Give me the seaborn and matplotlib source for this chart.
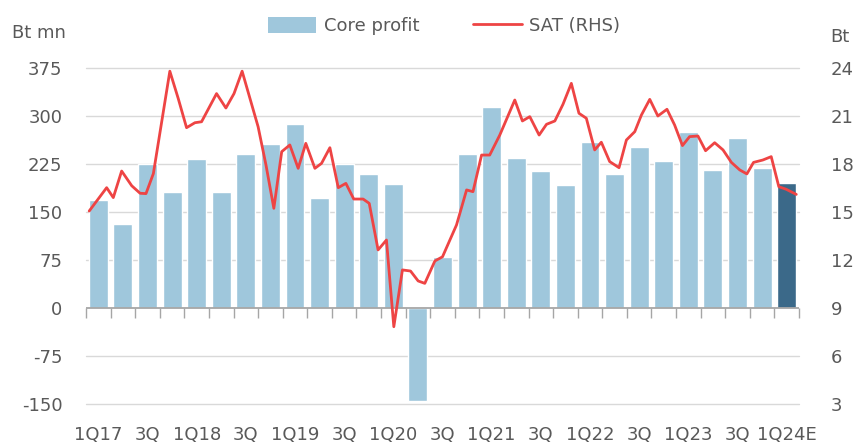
import numpy as np
import pandas as pd
import matplotlib
matplotlib.use("Agg")
import matplotlib.pyplot as plt
from matplotlib.patches import Patch
from matplotlib.lines import Line2D
import seaborn as sns

# ===== DATA =====
quarters = ["1Q17", "2Q17", "3Q17", "4Q17", "1Q18", "2Q18", "3Q18", "4Q18",
            "1Q19", "2Q19", "3Q19", "4Q19", "1Q20", "2Q20", "3Q20", "4Q20",
            "1Q21", "2Q21", "3Q21", "4Q21", "1Q22", "2Q22", "3Q22", "4Q22",
            "1Q23", "2Q23", "3Q23", "4Q23", "1Q24E"]
tick_labels = ["1Q17", "3Q", "1Q18", "3Q", "1Q19", "3Q", "1Q20", "3Q",
               "1Q21", "3Q", "1Q22", "3Q", "1Q23", "3Q", "1Q24E"]

# Core profit (Bt mn), LHS
core_profit = [169, 131, 225, 181, 233, 182, 241, 256, 287, 172, 225, 209,
               194, -146, 80, 241, 314, 235, 214, 192, 259, 209, 252, 229,
               275, 216, 265, 218, 195]
is_estimate = [False] * 28 + [True]

# SAT share price (Bt), RHS -- time in quarters since start of 2017
sat_time = [0.13, 0.84, 1.11, 1.45, 1.86, 2.20, 2.44, 2.74, 3.41, 3.75,
            4.09, 4.43, 4.70, 5.31, 5.69, 6.02, 6.35, 7.00, 7.32, 7.64,
            7.96, 8.29, 8.63, 8.94, 9.31, 9.58, 9.92, 10.26, 10.57, 10.89,
            11.27, 11.52, 11.88, 12.22, 12.52, 12.87, 13.20, 13.51, 13.78, 14.19,
            14.50, 15.07, 15.48, 15.74, 16.09, 16.42, 16.83, 17.44, 17.75, 18.05,
            18.43, 18.73, 19.07, 19.40, 19.74, 20.05, 20.35, 20.69, 20.96, 21.30,
            21.68, 21.98, 22.32, 22.59, 22.93, 23.26, 23.63, 23.94, 24.26, 24.55,
            24.89, 25.20, 25.57, 25.91, 26.25, 26.59, 26.88, 27.15, 27.53, 27.87,
            28.18, 28.48, 28.89]
sat_price = [15.06, 16.52, 15.90, 17.56, 16.64, 16.17, 16.15, 17.40, 23.80, 22.10,
             20.27, 20.58, 20.64, 22.40, 21.50, 22.40, 23.80, 20.33, 17.94, 15.23,
             18.77, 19.19, 17.73, 19.29, 17.73, 18.04, 19.02, 16.52, 16.79, 15.81,
             15.81, 15.54, 12.63, 13.25, 7.83, 11.38, 11.31, 10.69, 10.54, 11.94,
             12.20, 14.19, 16.38, 16.27, 18.56, 18.56, 19.81, 22.00, 20.69, 20.96,
             19.81, 20.48, 20.69, 21.73, 23.04, 21.17, 20.86, 18.88, 19.36, 18.15,
             17.77, 19.50, 20.02, 21.06, 22.04, 21.00, 21.42, 20.44, 19.15, 19.71,
             19.75, 18.83, 19.33, 18.88, 18.10, 17.63, 17.38, 18.10, 18.25, 18.46,
             16.58, 16.42, 16.10]

left_ticks = [-150, -75, 0, 75, 150, 225, 300, 375]
right_ticks = [3, 6, 9, 12, 15, 18, 21, 24]

# ===== STYLE =====
BAR_LIGHT = "#9fc7dc"
BAR_DARK = "#3b6989"
LINE_RED = "#ee4444"
TXT = "#595959"
GRID = "#d9d9d9"

sns.set_theme(style="white")
plt.rcParams["font.family"] = ["DejaVu Sans"]

df = pd.DataFrame({"quarter": quarters, "core": core_profit})
bar_colors = [BAR_DARK if e else BAR_LIGHT for e in is_estimate]

fig = plt.figure(figsize=(8.57, 4.44), dpi=100)
ax = fig.add_axes([86 / 857, 1 - 404 / 444, (799 - 86) / 857, (404 - 68) / 444])

sns.barplot(data=df, x="quarter", y="core", hue="quarter", palette=bar_colors,
            legend=False, width=0.77, saturation=1, ax=ax)

ax.set_xlim(-0.5, len(quarters) - 0.5)
ax.set_ylim(-150, 375)
ax.set_yticks(left_ticks)
ax.set_yticklabels([str(t) for t in left_ticks])
ax.set_xticks(range(0, len(quarters), 2))
ax.set_xticklabels(tick_labels)
ax.set_xlabel("")
ax.set_ylabel("")
for t in left_ticks:
    if t != 0:
        ax.axhline(t, color=GRID, lw=1.0, zorder=0, clip_on=False)
ax.axhline(0, color="#a6a6a6", lw=1.3, zorder=3)
for s in ax.spines.values():
    s.set_visible(False)
ax.tick_params(axis="x", length=0, pad=16, labelsize=13, colors=TXT)
ax.tick_params(axis="y", length=0, pad=17, labelsize=13, colors=TXT)

# small ticks hanging from the zero line at category boundaries
zero_frac = (0 - (-150)) / (375 - (-150))
sec = ax.secondary_xaxis(zero_frac)
sec.set_xticks(np.arange(-0.5, len(quarters), 1.0))
sec.set_xticklabels([])
sec.spines["bottom"].set_visible(False)
sec.tick_params(axis="x", direction="out", length=7, width=1.0, color="#a6a6a6")

# SAT line on right axis
ax2 = ax.twinx()
sat_df = pd.DataFrame({"x": np.array(sat_time) - 0.5, "price": sat_price})
sns.lineplot(data=sat_df, x="x", y="price", color=LINE_RED, lw=2.0, ax=ax2)
ax2.set_ylim(3, 24)
ax2.set_yticks(right_ticks)
ax2.set_yticklabels([str(t) for t in right_ticks])
ax2.set_xlim(-0.5, len(quarters) - 0.5)
ax2.set_ylabel("")
ax2.set_xlabel("")
for s in ax2.spines.values():
    s.set_visible(False)
ax2.tick_params(axis="y", length=0, pad=23, labelsize=13, colors=TXT)
ax2.grid(False)

# axis unit labels
fig.text(12 / 857, 1 - 33 / 444, "Bt mn", fontsize=13, color=TXT, va="center", ha="left")
fig.text(830 / 857, 1 - 37 / 444, "Bt", fontsize=13, color=TXT, va="center", ha="left")

# legend
handles = [Patch(facecolor=BAR_LIGHT, edgecolor="none", label="Core profit"),
           Line2D([0], [0], color=LINE_RED, lw=2.0, label="SAT (RHS)")]
leg = fig.legend(handles=handles, loc="center", bbox_to_anchor=(444 / 857, 1 - 26 / 444),
                 ncol=2, frameon=False, fontsize=13, handlelength=2.7,
                 handleheight=1.0, handletextpad=0.4, columnspacing=3.0)
for txt in leg.get_texts():
    txt.set_color(TXT)

plt.savefig("out.png", dpi=100)
plt.close()
